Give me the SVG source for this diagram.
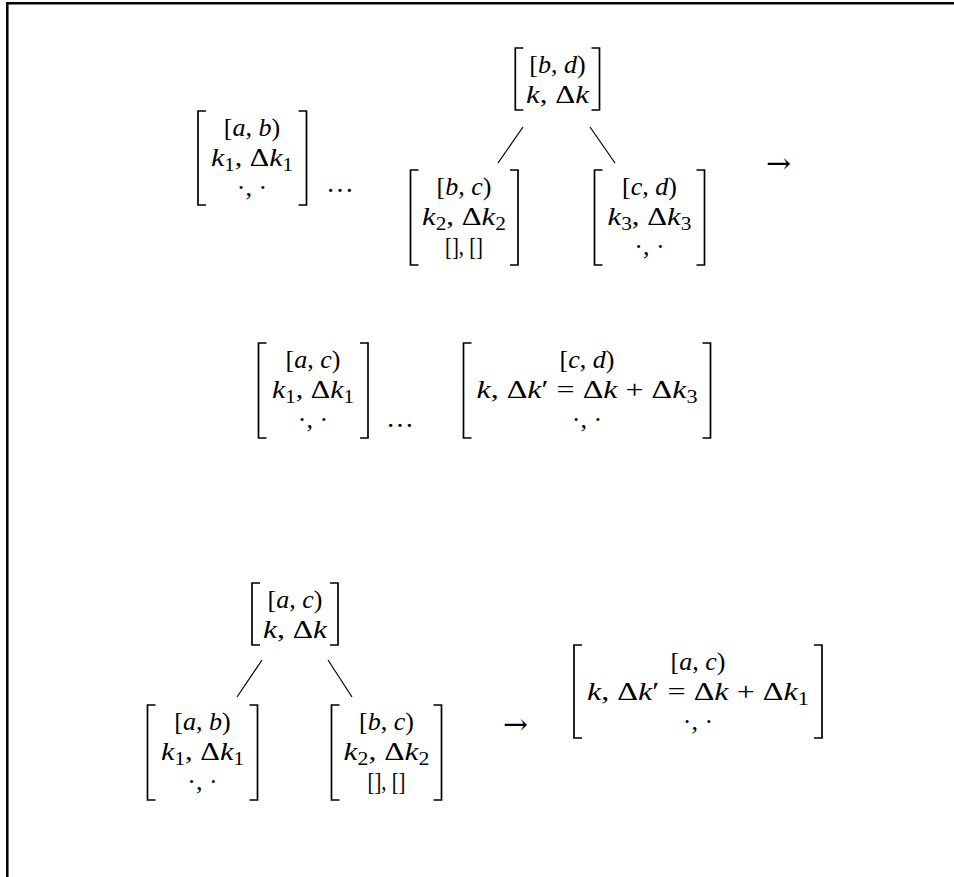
<svg xmlns="http://www.w3.org/2000/svg" width="954" height="877" viewBox="0 0 954 877">
<style>
.t{font-family:"Liberation Serif","Times New Roman",serif;font-size:26px;fill:#000;text-anchor:middle}
.i{font-style:italic}
.s{font-size:18px}
.ar{font-family:"DejaVu Serif","DejaVu Sans",serif;font-size:29px;fill:#000;text-anchor:middle}
.el{font-family:"Liberation Serif","Times New Roman",serif;font-size:28px;fill:#000;text-anchor:middle}
.br{fill:none;stroke:#000;stroke-width:1.7;stroke-linejoin:miter;stroke-linecap:butt}
.edge{stroke:#000;stroke-width:1.2;fill:none}
</style>
<rect x="0" y="0" width="954" height="877" fill="#fff"/>
<path d="M7.3,877 V3.2 H954" fill="none" stroke="#000" stroke-width="2.5"/>

<g id="connectors">
<line class="edge" x1="523" y1="127" x2="498" y2="163"/>
<line class="edge" x1="590" y1="127" x2="615" y2="163"/>
<line class="edge" x1="262" y1="660" x2="237" y2="697"/>
<line class="edge" x1="328" y1="660" x2="352" y2="697"/>
</g>

<g id="node-ab">
<path class="br" d="M206,111 H198 V205 H206 M298.5,111 H306.5 V205 H298.5"/>
<text class="t" x="252" y="136">[<tspan class="i">a</tspan>, <tspan class="i">b</tspan>)</text>
<text class="t" x="252" y="166" textLength="82" lengthAdjust="spacingAndGlyphs"><tspan class="i">k</tspan><tspan class="s" dy="5">1</tspan><tspan dy="-5">, Δ</tspan><tspan class="i">k</tspan><tspan class="s" dy="5">1</tspan></text>
<text class="t" x="252" y="196">·, ·</text>
</g>
<g id="dots-top"><text class="el" x="340" y="192" textLength="28" lengthAdjust="spacingAndGlyphs">…</text></g>

<g id="node-bd">
<path class="br" d="M523.3,48 H515.3 V110 H523.3 M591.5,48 H599.5 V110 H591.5"/>
<text class="t" x="557.5" y="73">[<tspan class="i">b</tspan>, <tspan class="i">d</tspan>)</text>
<text class="t" x="557.5" y="103" textLength="63" lengthAdjust="spacingAndGlyphs"><tspan class="i">k</tspan>, Δ<tspan class="i">k</tspan></text>
</g>

<g id="node-bc-top">
<path class="br" d="M418.5,170 H410.5 V265 H418.5 M510,170 H518 V265 H510"/>
<text class="t" x="464" y="195">[<tspan class="i">b</tspan>, <tspan class="i">c</tspan>)</text>
<text class="t" x="464" y="225" textLength="84" lengthAdjust="spacingAndGlyphs"><tspan class="i">k</tspan><tspan class="s" dy="5">2</tspan><tspan dy="-5">, Δ</tspan><tspan class="i">k</tspan><tspan class="s" dy="5">2</tspan></text>
<text class="t" x="464" y="255" textLength="38" lengthAdjust="spacingAndGlyphs">[], []</text>
</g>

<g id="node-cd-top">
<path class="br" d="M602.5,170 H594.5 V265 H602.5 M696.5,170 H704.5 V265 H696.5"/>
<text class="t" x="649.5" y="195">[<tspan class="i">c</tspan>, <tspan class="i">d</tspan>)</text>
<text class="t" x="649.5" y="225" textLength="84" lengthAdjust="spacingAndGlyphs"><tspan class="i">k</tspan><tspan class="s" dy="5">3</tspan><tspan dy="-5">, Δ</tspan><tspan class="i">k</tspan><tspan class="s" dy="5">3</tspan></text>
<text class="t" x="649.5" y="255">·, ·</text>
</g>
<g id="arrow-top"><text class="ar" x="778.5" y="173" textLength="25" lengthAdjust="spacingAndGlyphs">→</text></g>

<g id="node-ac-mid">
<path class="br" d="M266.5,343 H258.5 V438 H266.5 M360,343 H368 V438 H360"/>
<text class="t" x="313" y="368">[<tspan class="i">a</tspan>, <tspan class="i">c</tspan>)</text>
<text class="t" x="313" y="398" textLength="82" lengthAdjust="spacingAndGlyphs"><tspan class="i">k</tspan><tspan class="s" dy="5">1</tspan><tspan dy="-5">, Δ</tspan><tspan class="i">k</tspan><tspan class="s" dy="5">1</tspan></text>
<text class="t" x="313" y="428">·, ·</text>
</g>
<g id="dots-mid"><text class="el" x="400" y="427" textLength="28" lengthAdjust="spacingAndGlyphs">…</text></g>

<g id="node-cd-mid">
<path class="br" d="M471.5,343 H463.5 V438 H471.5 M702.5,343 H710.5 V438 H702.5"/>
<text class="t" x="587" y="368">[<tspan class="i">c</tspan>, <tspan class="i">d</tspan>)</text>
<text class="t" x="587" y="398" textLength="221" lengthAdjust="spacingAndGlyphs"><tspan class="i">k</tspan>, Δ<tspan class="i">k</tspan>′ = Δ<tspan class="i">k</tspan> + Δ<tspan class="i">k</tspan><tspan class="s" dy="5">3</tspan></text>
<text class="t" x="587" y="428">·, ·</text>
</g>

<g id="node-ac-root">
<path class="br" d="M260,583 H252 V645 H260 M330,583 H338 V645 H330"/>
<text class="t" x="295" y="608">[<tspan class="i">a</tspan>, <tspan class="i">c</tspan>)</text>
<text class="t" x="295" y="638" textLength="64" lengthAdjust="spacingAndGlyphs"><tspan class="i">k</tspan>, Δ<tspan class="i">k</tspan></text>
</g>

<g id="node-ab-bottom">
<path class="br" d="M155.5,705 H147.5 V800 H155.5 M249.5,705 H257.5 V800 H249.5"/>
<text class="t" x="202.5" y="730">[<tspan class="i">a</tspan>, <tspan class="i">b</tspan>)</text>
<text class="t" x="202.5" y="760" textLength="83" lengthAdjust="spacingAndGlyphs"><tspan class="i">k</tspan><tspan class="s" dy="5">1</tspan><tspan dy="-5">, Δ</tspan><tspan class="i">k</tspan><tspan class="s" dy="5">1</tspan></text>
<text class="t" x="202.5" y="790">·, ·</text>
</g>

<g id="node-bc-bottom">
<path class="br" d="M339.5,705 H331.5 V800 H339.5 M433.5,705 H441.5 V800 H433.5"/>
<text class="t" x="386.5" y="730">[<tspan class="i">b</tspan>, <tspan class="i">c</tspan>)</text>
<text class="t" x="386.5" y="760" textLength="86" lengthAdjust="spacingAndGlyphs"><tspan class="i">k</tspan><tspan class="s" dy="5">2</tspan><tspan dy="-5">, Δ</tspan><tspan class="i">k</tspan><tspan class="s" dy="5">2</tspan></text>
<text class="t" x="386.5" y="790" textLength="38" lengthAdjust="spacingAndGlyphs">[], []</text>
</g>
<g id="arrow-bottom"><text class="ar" x="515.5" y="734" textLength="25" lengthAdjust="spacingAndGlyphs">→</text></g>

<g id="node-ac-result">
<path class="br" d="M582,645 H574 V738 H582 M814,645 H822 V738 H814"/>
<text class="t" x="698" y="670">[<tspan class="i">a</tspan>, <tspan class="i">c</tspan>)</text>
<text class="t" x="698" y="700" textLength="222" lengthAdjust="spacingAndGlyphs"><tspan class="i">k</tspan>, Δ<tspan class="i">k</tspan>′ = Δ<tspan class="i">k</tspan> + Δ<tspan class="i">k</tspan><tspan class="s" dy="5">1</tspan></text>
<text class="t" x="698" y="730">·, ·</text>
</g>
</svg>
